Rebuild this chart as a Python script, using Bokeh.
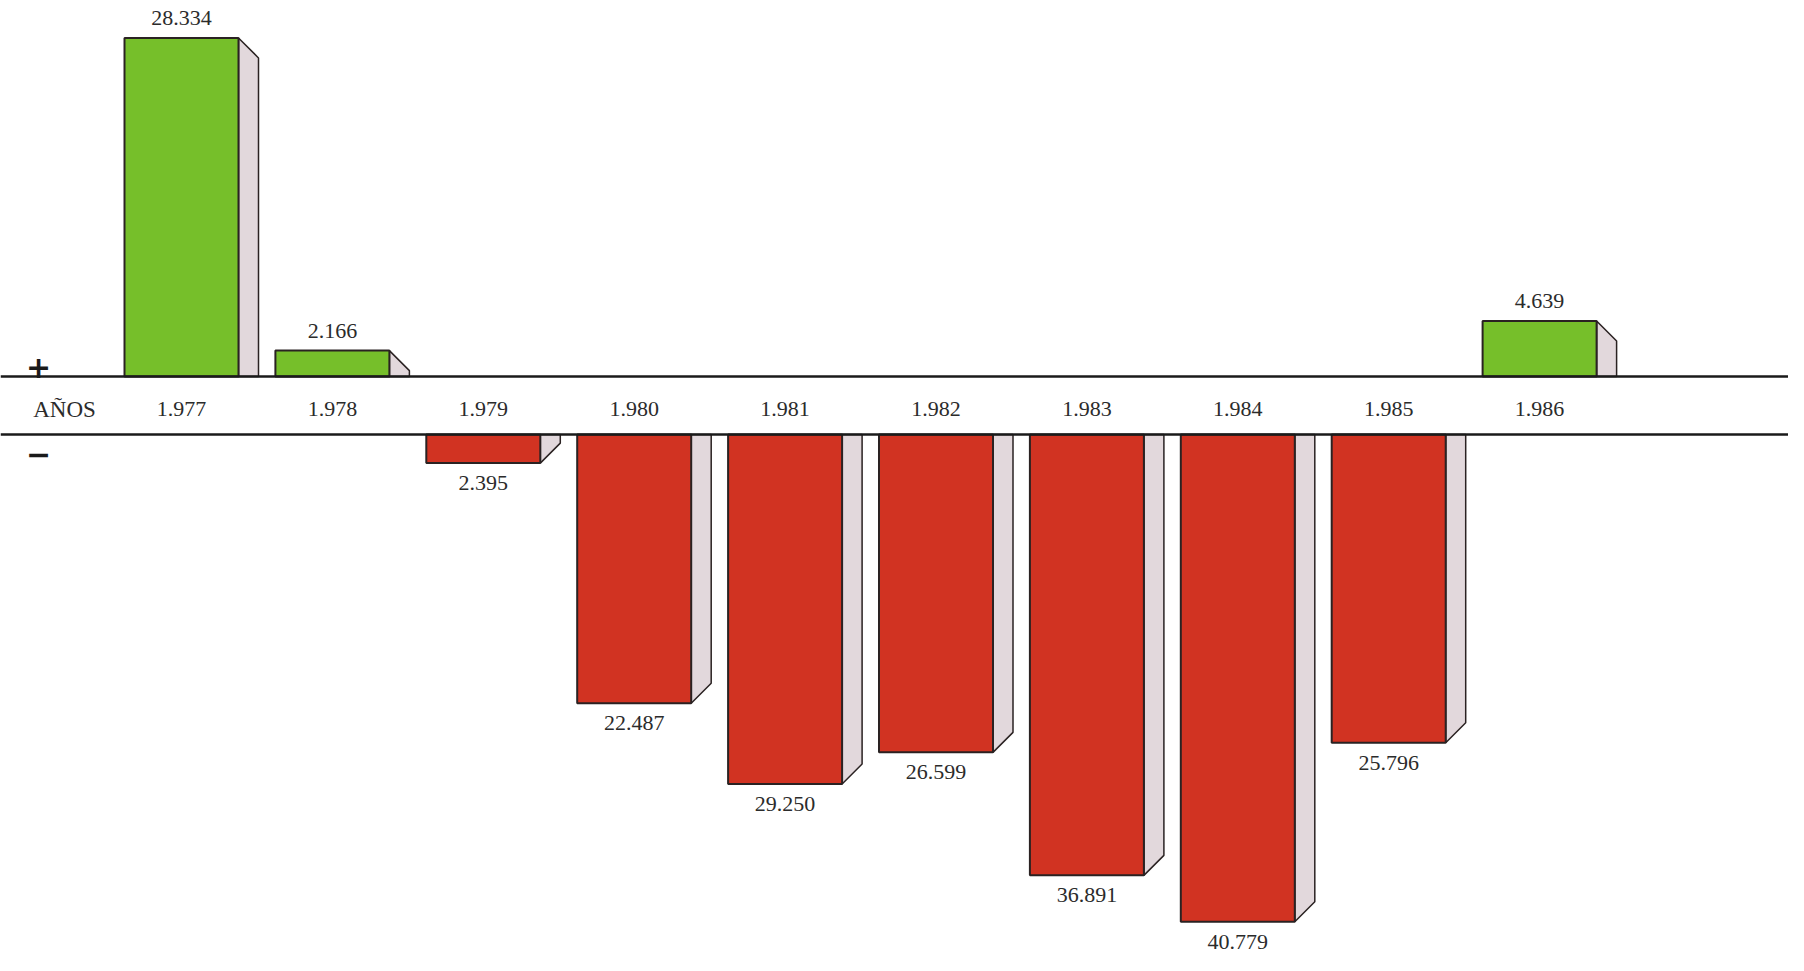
from bokeh.plotting import figure
from bokeh.models import Range1d, ColumnDataSource, Span
from bokeh.core.properties import value
from bokeh.embed import file_html
from bokeh.resources import INLINE

# ---- data ----
years = ["1.977", "1.978", "1.979", "1.980", "1.981", "1.982", "1.983", "1.984", "1.985", "1.986"]
values = [28.334, 2.166, -2.395, -22.487, -29.250, -26.599, -36.891, -40.779, -25.796, 4.639]

# ---- layout constants (px) ----
W, H = 1788, 955
PX_X = 150.9          # pixels per category step
PX_Y = 11.95          # pixels per unit
FRONT = 114 / PX_X    # front face width in x units
DX = 20 / PX_X        # depth of side face in x units
DY = 20 / PX_Y        # slant of side face in y units
GAP = 58 / PX_Y       # band between the two axis lines
x_start = -181 / PX_X
y_end = 376 / PX_Y

GREEN = "#76bf2a"
RED = "#d13322"
SIDE = "#e2d8dc"
EDGE = "#2a2222"
SERIF = "Liberation Serif"

p = figure(width=W, height=H, output_backend="svg", toolbar_location=None,
           x_range=Range1d(x_start, x_start + W / PX_X),
           y_range=Range1d(y_end - H / PX_Y, y_end),
           min_border=0, min_border_left=0, min_border_right=0,
           min_border_top=0, min_border_bottom=0)
p.axis.visible = False
p.grid.visible = False
p.outline_line_color = None
p.background_fill_color = "white"
p.border_fill_color = "white"

idx = list(range(len(years)))
left = [i - FRONT / 2 for i in idx]
right = [i + FRONT / 2 for i in idx]
top = [v if v > 0 else -GAP for v in values]
bottom = [0 if v > 0 else -GAP + v for v in values]
colors = [GREEN if v > 0 else RED for v in values]

# side faces
side_xs, side_ys = [], []
for l, r, t, b, v in zip(left, right, top, bottom, values):
    if v > 0:
        side_xs.append([r, r + DX, r + DX, r])
        side_ys.append([t, t - DY, b, b])
    else:
        side_xs.append([r, r + DX, r + DX, r])
        side_ys.append([t, t, b + DY, b])

p.patches(side_xs, side_ys, fill_color=SIDE, line_color=EDGE, line_width=1.5)

src = ColumnDataSource(dict(left=left, right=right, top=top, bottom=bottom, color=colors))
p.quad(left="left", right="right", top="top", bottom="bottom", source=src,
       fill_color="color", line_color=EDGE, line_width=2)

# axis band lines
p.add_layout(Span(location=0, dimension="width", line_color="#1a1a1a", line_width=2.5))
p.add_layout(Span(location=-GAP, dimension="width", line_color="#1a1a1a", line_width=2.5))

# value labels
lab_y = [t + 20 / PX_Y if v > 0 else b - 20 / PX_Y for t, b, v in zip(top, bottom, values)]
lab_txt = [f"{abs(v):.3f}" for v in values]
p.text(x=idx, y=lab_y, text=lab_txt, text_align="center", text_baseline="middle",
       text_font=value(SERIF), text_font_size="22px", text_color="#2b2b2b")

# year labels
p.text(x=idx, y=[-GAP / 2 - 0.3] * len(idx), text=years, text_align="center",
       text_baseline="middle", text_font=value(SERIF), text_font_size="22px",
       text_color="#2b2b2b")

# AÑOS, + and -
p.text(x=[(72 - 8) / PX_X + x_start], y=[-GAP / 2 - 0.3], text=["AÑOS"],
       text_align="center", text_baseline="middle", text_font=value(SERIF),
       text_font_size="23px", text_color="#2b2b2b")
p.text(x=[(46 - 8) / PX_X + x_start], y=[10 / PX_Y], text=["+"],
       text_align="center", text_baseline="middle", text_font=value("DejaVu Sans"),
       text_font_size="30px", text_font_style="bold", text_color="#1a1a1a")
p.text(x=[(46 - 8) / PX_X + x_start], y=[-GAP - 19 / PX_Y], text=["−"],
       text_align="center", text_baseline="middle", text_font=value("DejaVu Sans"),
       text_font_size="30px", text_font_style="bold", text_color="#1a1a1a")

open("out.html", "w").write(file_html(p, INLINE))
